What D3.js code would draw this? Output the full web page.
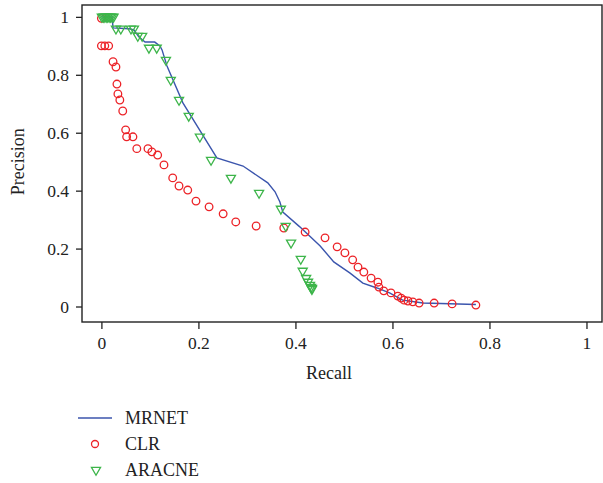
<!DOCTYPE html>
<html>
<head>
<meta charset="utf-8">
<script src="https://cdnjs.cloudflare.com/ajax/libs/d3/7.8.5/d3.min.js"></script>
<style>
body { margin: 0; background: #fff; }
svg text { font-family: "Liberation Serif", "DejaVu Serif", serif; }
</style>
</head>
<body>
<div id="pr-graph"></div>
<script>
// values
var mrnetRecall = [0, 0.022, 0.024, 0.057, 0.067, 0.077, 0.090, 0.110, 0.121, 0.125, 0.135, 0.168, 0.238, 0.292, 0.343, 0.358, 0.368, 0.374, 0.409, 0.451, 0.479, 0.512, 0.539, 0.568, 0.594, 0.621, 0.663, 0.772];
var mrnetPrecision = [1.0, 1.0, 0.962, 0.959, 0.955, 0.931, 0.913, 0.913, 0.899, 0.886, 0.831, 0.703, 0.513, 0.485, 0.427, 0.396, 0.361, 0.326, 0.275, 0.209, 0.154, 0.116, 0.081, 0.064, 0.047, 0.022, 0.012, 0.007];

var clrRecall = [0.0, 0.0, 0.007, 0.015, 0.024, 0.030, 0.032, 0.034, 0.038, 0.044, 0.050, 0.052, 0.065, 0.073, 0.096, 0.104, 0.116, 0.129, 0.147, 0.160, 0.178, 0.195, 0.222, 0.251, 0.277, 0.319, 0.376, 0.420, 0.461, 0.486, 0.502, 0.518, 0.529, 0.541, 0.556, 0.570, 0.572, 0.582, 0.597, 0.611, 0.618, 0.624, 0.632, 0.642, 0.655, 0.686, 0.723, 0.772];
var clrPrecision = [0.995, 0.900, 0.900, 0.900, 0.845, 0.827, 0.768, 0.734, 0.713, 0.675, 0.610, 0.586, 0.586, 0.545, 0.545, 0.534, 0.523, 0.489, 0.444, 0.416, 0.402, 0.364, 0.344, 0.320, 0.292, 0.278, 0.271, 0.257, 0.237, 0.206, 0.185, 0.161, 0.136, 0.119, 0.098, 0.084, 0.067, 0.054, 0.047, 0.036, 0.029, 0.022, 0.019, 0.016, 0.012, 0.012, 0.009, 0.005];

var aracneRecall = [0.001, 0.004, 0.007, 0.010, 0.013, 0.016, 0.019, 0.022, 0.025, 0.030, 0.040, 0.061, 0.067, 0.075, 0.084, 0.098, 0.114, 0.133, 0.143, 0.160, 0.180, 0.203, 0.226, 0.267, 0.325, 0.370, 0.380, 0.391, 0.411, 0.415, 0.422, 0.426, 0.430, 0.432, 0.434, 0.434];
var aracnePrecision = [1.0, 1.0, 1.0, 1.0, 1.0, 1.0, 1.0, 1.0, 1.0, 0.959, 0.959, 0.959, 0.959, 0.934, 0.934, 0.893, 0.893, 0.851, 0.782, 0.713, 0.658, 0.586, 0.506, 0.444, 0.392, 0.337, 0.278, 0.220, 0.164, 0.123, 0.098, 0.085, 0.074, 0.067, 0.064, 0.060];

var tickValues = [0, 0.2, 0.4, 0.6, 0.8, 1];
var tickLabels = ["0", "0.2", "0.4", "0.6", "0.8", "1"];
var seriesNames = ["MRNET", "CLR", "ARACNE"];

const LINE_COLOR = "#3b55ad";
const CLR_COLOR = "#ec2227";
const ARACNE_COLOR = "#3db54a";

var margin = {top: 5, right: 1, bottom: 161, left: 82},
	width = 603 - margin.left - margin.right,
	height = 483 - margin.top - margin.bottom;

var svg = d3.select("#pr-graph")
	.append("svg")
	.attr("width", 603)
	.attr("height", 483)
	.append("g")
	.attr("transform", "translate(" + margin.left + "," + margin.top + ")");

var x = d3.scaleLinear()
	.domain([-0.04, 1.032])
	.range([0, width]);

var y = d3.scaleLinear()
	.domain([-0.0535, 1.041])
	.range([height, 0]);

// axes
var xAxis = svg.append("g")
	.attr("transform", "translate(0," + height + ")")
	.call(d3.axisBottom(x)
		.tickValues(tickValues)
		.tickFormat((d, i) => tickLabels[i])
		.tickSize(7)
		.tickSizeOuter(0)
		.tickPadding(8));
xAxis.select(".domain").remove();

var yAxis = svg.append("g")
	.call(d3.axisLeft(y)
		.tickValues(tickValues)
		.tickFormat((d, i) => tickLabels[i])
		.tickSize(6)
		.tickSizeOuter(0)
		.tickPadding(7));
yAxis.select(".domain").remove();

svg.selectAll(".tick line")
	.attr("stroke", "#222")
	.attr("stroke-width", 1.3);
svg.selectAll(".tick text")
	.attr("fill", "#222")
	.style("font-size", "17.5px");

// frame
svg.append("rect")
	.attr("x", 0)
	.attr("y", 0)
	.attr("width", width)
	.attr("height", height)
	.attr("fill", "none")
	.attr("stroke", "#222")
	.attr("stroke-width", 1.4);

// axis titles
svg.append("text")
	.attr("x", width / 2 - 13)
	.attr("y", height + 57)
	.attr("text-anchor", "middle")
	.attr("fill", "#222")
	.style("font-size", "18px")
	.text("Recall");

svg.append("text")
	.attr("transform", "translate(-58," + y(0.5) + ")rotate(-90)")
	.attr("text-anchor", "middle")
	.attr("fill", "#222")
	.style("font-size", "18px")
	.text("Precision");

// MRNET line
var mrnet = mrnetRecall.map((r, i) => ({r: r, p: mrnetPrecision[i]}));
svg.append("path")
	.datum(mrnet)
	.attr("fill", "none")
	.attr("stroke", LINE_COLOR)
	.attr("stroke-width", 1.4)
	.attr("d", d3.line().x(d => x(d.r)).y(d => y(d.p)));

// CLR circles
var clr = clrRecall.map((r, i) => ({r: r, p: clrPrecision[i]}));
svg.append("g")
	.selectAll("circle")
	.data(clr)
	.enter()
	.append("circle")
	.attr("cx", d => x(d.r))
	.attr("cy", d => y(d.p))
	.attr("r", 3.8)
	.attr("fill", "none")
	.attr("stroke", CLR_COLOR)
	.attr("stroke-width", 1.3);

// ARACNE triangles
var tri = d3.symbol().type(d3.symbolTriangle).size(36);
var aracne = aracneRecall.map((r, i) => ({r: r, p: aracnePrecision[i]}));
svg.append("g")
	.selectAll("path")
	.data(aracne)
	.enter()
	.append("path")
	.attr("d", tri)
	.attr("transform", d => "translate(" + x(d.r) + "," + y(d.p) + ")rotate(180)")
	.attr("fill", "none")
	.attr("stroke", ARACNE_COLOR)
	.attr("stroke-width", 1.3);

// legend
var legend = d3.select("svg").append("g");
var legendY = [418, 444, 470];
legend.append("line")
	.attr("x1", 78).attr("x2", 112)
	.attr("y1", legendY[0]).attr("y2", legendY[0])
	.attr("stroke", LINE_COLOR)
	.attr("stroke-width", 1.4);
legend.append("circle")
	.attr("cx", 95).attr("cy", legendY[1])
	.attr("r", 3.5)
	.attr("fill", "none")
	.attr("stroke", CLR_COLOR)
	.attr("stroke-width", 1.3);
legend.append("path")
	.attr("d", tri)
	.attr("transform", "translate(96," + legendY[2] + ")rotate(180)")
	.attr("fill", "none")
	.attr("stroke", ARACNE_COLOR)
	.attr("stroke-width", 1.3);
legend.selectAll("text")
	.data(seriesNames)
	.enter()
	.append("text")
	.attr("x", 125)
	.attr("y", (d, i) => legendY[i] + 6)
	.attr("fill", "#222")
	.style("font-size", "18px")
	.text(d => d);
</script>
</body>
</html>
